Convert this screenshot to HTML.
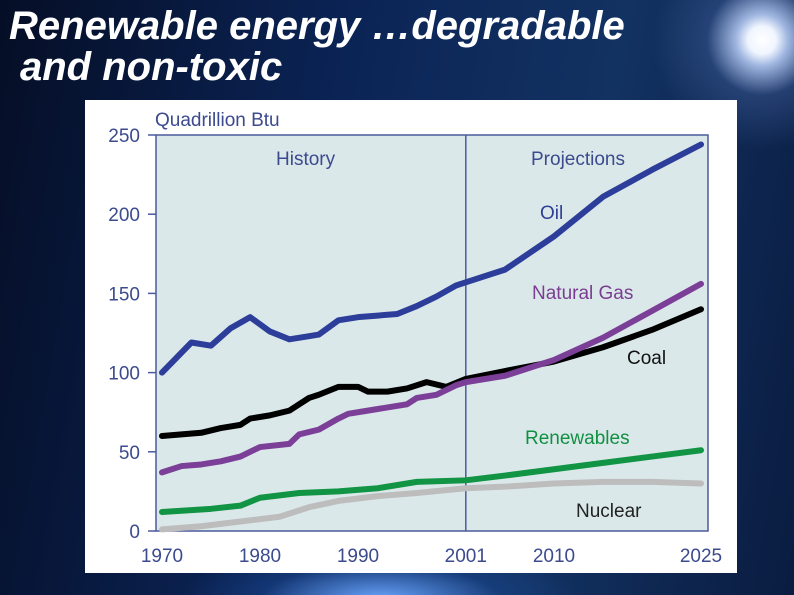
<!DOCTYPE html>
<html><head><meta charset="utf-8"><style>
html,body{margin:0;padding:0}
body{width:794px;height:595px;overflow:hidden;position:relative;font-family:"Liberation Sans",sans-serif;
background:radial-gradient(circle at 762px 40px,#ffffff 0,#f0f5ff 14px,#9fb6e0 26px,rgba(60,90,150,0.5) 55px,rgba(20,40,90,0) 110px),
radial-gradient(ellipse 200px 60px at 380px 600px,#6aa6ff 0,rgba(30,80,160,0.4) 60%,rgba(0,0,0,0) 100%),
linear-gradient(100deg,#050e26 0%,#0b2456 40%,#123262 70%,#0a1c40 100%);}
.title{position:absolute;color:#fff;font-style:italic;font-weight:bold;font-size:40px;white-space:nowrap;line-height:46px}
svg text{font-family:"Liberation Sans",sans-serif}
</style></head><body>
<div class="title" style="left:9px;top:3px">Renewable energy …degradable</div>
<div class="title" style="left:20px;top:44px">and non-toxic</div>
<svg id="chart" width="794" height="595" style="position:absolute;left:0;top:0">
<rect x="85" y="100" width="652" height="473" fill="#fff"/>
<rect x="156" y="135" width="552" height="396" fill="#dbe8ea" stroke="#4b5a9c" stroke-width="1.5"/>
<g id="axes"></g><g id="series"></g>
<text x="155" y="126" font-size="19" fill="#3c4a8e">Quadrillion Btu</text>
<text x="276" y="165" font-size="19" fill="#3c4a8e">History</text>
<text x="531" y="165" font-size="19" fill="#3c4a8e">Projections</text>
<text x="540" y="219" font-size="19" fill="#2e3f95">Oil</text>
<text x="532" y="299" font-size="19" fill="#7a3d92">Natural Gas</text>
<text x="627" y="364" font-size="19" fill="#111">Coal</text>
<text x="525" y="444" font-size="19" fill="#109040">Renewables</text>
<text x="576" y="517" font-size="19" fill="#222">Nuclear</text>
</svg>
<script>
const yTicks=[0,50,100,150,200,250];
const xTicks=[1970,1980,1990,2001,2010,2025];
const oilYears=[1970,1973,1975,1977,1979,1981,1983,1985,1986,1988,1990,1992,1994,1996,1998,2000,2001,2005,2010,2015,2020,2025];
const oilVals=[100,119,117,128,135,126,121,123,124,133,135,136,137,142,148,155,157,165,186,211,228,244];
const gasYears=[1970,1972,1974,1976,1978,1980,1983,1984,1986,1988,1989,1991,1993,1995,1996,1998,2000,2001,2005,2010,2015,2020,2025];
const gasVals=[37,41,42,44,47,53,55,61,64,71,74,76,78,80,84,86,92,94,98,108,122,139,156];
const coalYears=[1970,1972,1974,1976,1978,1979,1981,1983,1985,1986,1988,1990,1991,1993,1995,1997,1999,2001,2005,2010,2015,2020,2025];
const coalVals=[60,61,62,65,67,71,73,76,84,86,91,91,88,88,90,94,91,96,101,107,116,127,140];
const renYears=[1970,1975,1978,1980,1984,1988,1992,1996,2001,2005,2010,2015,2020,2025];
const renVals=[12,14,16,21,24,25,27,31,32,35,39,43,47,51];
const nucYears=[1970,1974,1978,1982,1985,1988,1992,1996,2001,2005,2010,2015,2020,2025];
const nucVals=[1,3,6,9,15,19,22,24,27,28,30,31,31,30];
const NS='http://www.w3.org/2000/svg';
const xS=y=>162+(y-1970)*9.8;
const yS=v=>531-v*1.584;
const ax=document.getElementById('axes'),se=document.getElementById('series');
function mk(tag,attrs,parent){const e=document.createElementNS(NS,tag);for(const k in attrs)e.setAttribute(k,attrs[k]);parent.appendChild(e);return e;}
yTicks.forEach(t=>{
 const l=mk('line',{x1:148,x2:156,y1:yS(t),y2:yS(t),stroke:'#4b5a9c','stroke-width':1.5},ax);
 
 
 const tx=mk('text',{x:140,y:yS(t)+7,'text-anchor':'end','font-size':19,fill:'#3c4a8e'},ax);
 
 
 tx.textContent=t;
});
xTicks.forEach(t=>{
 const tx=mk('text',{x:xS(t),y:562,'text-anchor':'middle','font-size':19,fill:'#3c4a8e'},ax);
 
 
 tx.textContent=t;
});
const div=mk('line',{x1:xS(2001),x2:xS(2001),y1:135,y2:531,stroke:'#4b5a9c','stroke-width':1.5},ax);


function series(years,vals,color,name){
 const p=mk('polyline',{points:years.map((y,i)=>xS(y)+','+yS(vals[i])).join(' '),fill:'none',stroke:color,'stroke-width':6,'stroke-linejoin':'round','stroke-linecap':'round'},se);
 
 
}
series(nucYears,nucVals,'#bdbdbd','nuclear-line');
series(renYears,renVals,'#119443','renewables-line');
series(coalYears,coalVals,'#000000','coal-line');
series(gasYears,gasVals,'#7b3f98','gas-line');
series(oilYears,oilVals,'#2c3e99','oil-line');
</script>
</body></html>
